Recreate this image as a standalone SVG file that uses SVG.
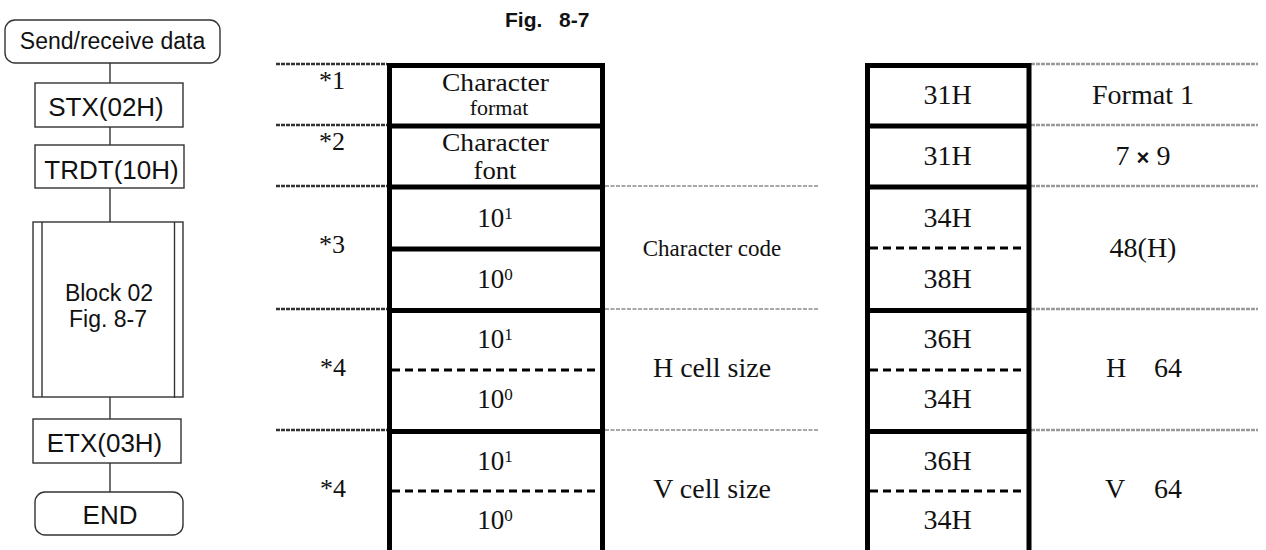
<svg xmlns="http://www.w3.org/2000/svg" width="1266" height="550" viewBox="0 0 1266 550">
  <style>
    .box { fill: #fff; stroke: #333; stroke-width: 1.4; }
    .flow { stroke: #333; stroke-width: 1.4; fill: none; }
    .sans { font-family: "Liberation Sans", Arial, sans-serif; fill: #111; }
    .serif { font-family: "Liberation Serif", "Times New Roman", serif; fill: #111; }
    .thick { stroke: #000; stroke-width: 5; fill: none; }
    .dash { stroke: #000; stroke-width: 3; stroke-dasharray: 8 5; fill: none; }
    .dotL { stroke: #333; stroke-width: 2.5; stroke-dasharray: 4 1; fill: none; }
    .dotM { stroke: #a8a8a8; stroke-width: 2.2; stroke-dasharray: 4 1.5; fill: none; }
    .dotR { stroke: #999; stroke-width: 2.5; stroke-dasharray: 4 1; fill: none; }
  </style>

  <!-- flowchart connectors -->
  <g id="flow-connectors">
    <line class="flow" x1="110" y1="63" x2="110" y2="83"/>
    <line class="flow" x1="110" y1="127" x2="110" y2="145"/>
    <line class="flow" x1="110" y1="188" x2="110" y2="222"/>
    <line class="flow" x1="110" y1="397" x2="110" y2="419"/>
    <line class="flow" x1="110" y1="463" x2="110" y2="492"/>
  </g>

  <!-- flowchart nodes -->
  <g id="start">
    <rect class="box" x="5" y="20" width="215" height="43" rx="10"/>
    <text class="sans" x="112.5" y="49" font-size="23" text-anchor="middle">Send/receive data</text>
  </g>
  <g id="stx">
    <rect class="box" x="35" y="83" width="148" height="44"/>
    <text class="sans" x="106" y="116" font-size="26" text-anchor="middle">STX(02H)</text>
  </g>
  <g id="trdt">
    <rect class="box" x="35" y="145" width="149" height="43"/>
    <text class="sans" x="111.5" y="179" font-size="26" text-anchor="middle">TRDT(10H)</text>
  </g>
  <g id="block">
    <rect class="box" x="33" y="222" width="150" height="175"/>
    <line class="flow" x1="42" y1="222" x2="42" y2="397"/>
    <line class="flow" x1="174.5" y1="222" x2="174.5" y2="398"/>
    <text class="sans" x="109" y="301" font-size="23" text-anchor="middle">Block 02</text>
    <text class="sans" x="108" y="327" font-size="23" text-anchor="middle">Fig. 8-7</text>
  </g>
  <g id="etx">
    <rect class="box" x="33" y="419" width="148" height="44"/>
    <text class="sans" x="104.5" y="452" font-size="26" text-anchor="middle">ETX(03H)</text>
  </g>
  <g id="end">
    <rect class="box" x="35" y="492" width="148" height="43" rx="10"/>
    <text class="sans" x="110" y="524" font-size="26" text-anchor="middle">END</text>
  </g>

  <!-- title -->
  <text class="sans" x="505" y="27" font-size="21" font-weight="bold">Fig.<tspan x="559">8-7</tspan></text>

  <!-- row separators beside the tables -->
  <g id="separators">
    <line class="dotL" x1="276" y1="64" x2="387" y2="64"/>
    <line class="dotL" x1="276" y1="125" x2="387" y2="125"/>
    <line class="dotL" x1="276" y1="186" x2="387" y2="186"/>
    <line class="dotL" x1="276" y1="309" x2="387" y2="309"/>
    <line class="dotL" x1="276" y1="430" x2="387" y2="430"/>

    <line class="dotM" x1="605" y1="186" x2="818" y2="186"/>
    <line class="dotM" x1="605" y1="309" x2="818" y2="309"/>
    <line class="dotM" x1="605" y1="430" x2="818" y2="430"/>

    <line class="dotR" x1="1031" y1="64" x2="1258" y2="64"/>
    <line class="dotR" x1="1031" y1="125" x2="1258" y2="125"/>
    <line class="dotR" x1="1031" y1="186" x2="1258" y2="186"/>
    <line class="dotR" x1="1031" y1="309" x2="1258" y2="309"/>
    <line class="dotR" x1="1031" y1="430" x2="1258" y2="430"/>
  </g>

  <!-- left table: field names -->
  <g id="field-table">
    <path class="thick" d="M389.5 63 V550 M602.5 63 V550 M387 65.5 H605 M387 126 H605 M387 187 H605 M387 249 H605 M387 310.5 H605 M387 431.5 H605"/>
    <line class="dash" x1="392" y1="370" x2="600" y2="370"/>
    <line class="dash" x1="392" y1="491" x2="600" y2="491"/>
  </g>

  <!-- right table: transmitted codes -->
  <g id="code-table">
    <path class="thick" d="M867.5 63 V550 M1029 63 V550 M865 65.5 H1031.5 M865 126 H1031.5 M865 187 H1031.5 M865 310.5 H1031.5 M865 431.5 H1031.5"/>
    <line class="dash" x1="870" y1="248" x2="1024" y2="248"/>
    <line class="dash" x1="870" y1="370" x2="1024" y2="370"/>
    <line class="dash" x1="870" y1="491" x2="1024" y2="491"/>
  </g>

  <!-- note marks -->
  <g id="notes" class="serif" font-size="26" text-anchor="middle">
    <text x="332" y="89">*1</text>
    <text x="332" y="150">*2</text>
    <text x="332" y="253">*3</text>
    <text x="333" y="376">*4</text>
    <text x="333" y="497">*4</text>
  </g>

  <!-- field names -->
  <g id="fields" class="serif" text-anchor="middle">
    <text x="495.5" y="91" font-size="26" textLength="107" lengthAdjust="spacingAndGlyphs">Character</text>
    <text x="499" y="115" font-size="22">format</text>
    <text x="495.5" y="150.5" font-size="25" textLength="107" lengthAdjust="spacingAndGlyphs">Character</text>
    <text x="495" y="179" font-size="25" textLength="43" lengthAdjust="spacingAndGlyphs">font</text>
    <text x="495" y="227" font-size="27">10<tspan font-size="17" dy="-8">1</tspan></text>
    <text x="495" y="288" font-size="27">10<tspan font-size="17" dy="-8">0</tspan></text>
    <text x="495" y="348" font-size="27">10<tspan font-size="17" dy="-8">1</tspan></text>
    <text x="495" y="408" font-size="27">10<tspan font-size="17" dy="-8">0</tspan></text>
    <text x="495" y="470" font-size="27">10<tspan font-size="17" dy="-8">1</tspan></text>
    <text x="495" y="529" font-size="27">10<tspan font-size="17" dy="-8">0</tspan></text>
  </g>

  <!-- field meanings -->
  <g id="meanings" class="serif" text-anchor="middle">
    <text x="712" y="256" font-size="23">Character code</text>
    <text x="712" y="377" font-size="28">H cell size</text>
    <text x="712" y="498" font-size="28">V cell size</text>
  </g>

  <!-- codes -->
  <g id="codes" class="serif" font-size="28" text-anchor="middle">
    <text x="947.5" y="104">31H</text>
    <text x="947.5" y="165">31H</text>
    <text x="947.5" y="227">34H</text>
    <text x="947.5" y="288">38H</text>
    <text x="947.5" y="348">36H</text>
    <text x="947.5" y="408">34H</text>
    <text x="947.5" y="470">36H</text>
    <text x="947.5" y="529">34H</text>
  </g>

  <!-- values -->
  <g id="values" class="serif" font-size="28">
    <text x="1143" y="104" text-anchor="middle">Format 1</text>
    <text x="1143" y="165" text-anchor="middle">7 <tspan class="sans" font-weight="bold" font-size="22">×</tspan> 9</text>
    <text x="1143" y="257" text-anchor="middle">48(H)</text>
    <text x="1106" y="377">H<tspan x="1154">64</tspan></text>
    <text x="1105" y="498">V<tspan x="1154">64</tspan></text>
  </g>
</svg>
